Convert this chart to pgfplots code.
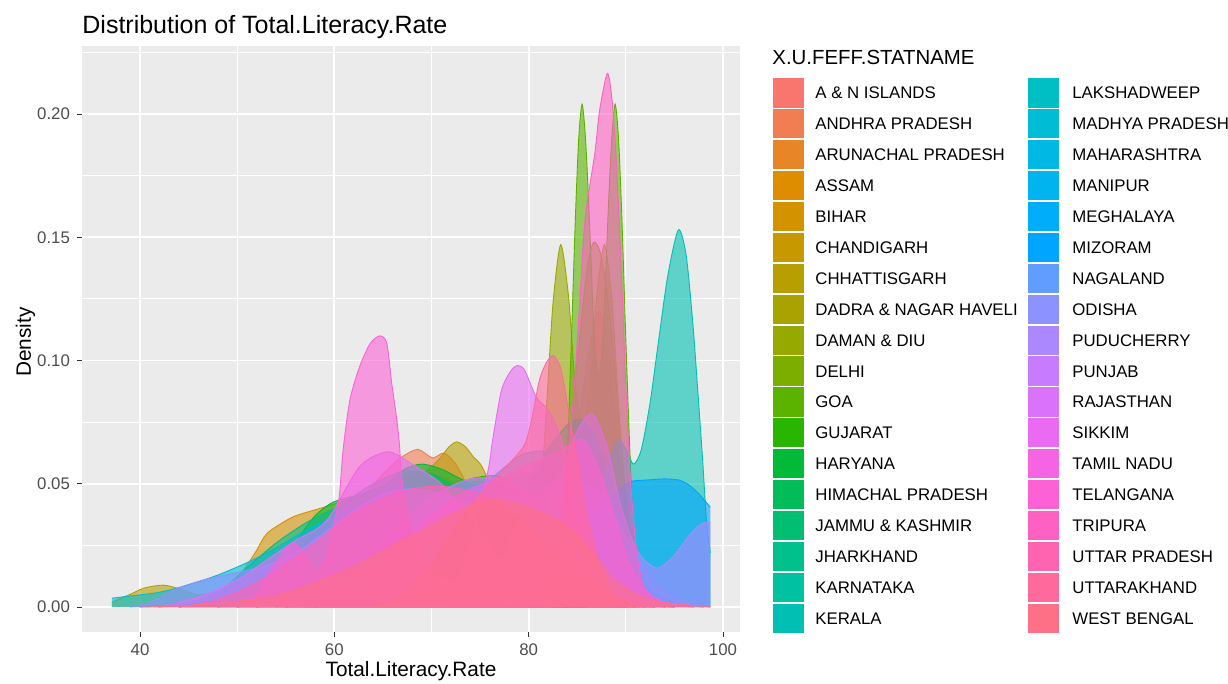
\documentclass[border=0pt]{standalone}
\usepackage{fontspec}
\setmainfont{Liberation Sans}
\usepackage{pgfplots}
\pgfplotsset{compat=1.18}
\definecolor{ggbg}{HTML}{EBEBEB}
\definecolor{ggtick}{HTML}{333333}
\definecolor{gglab}{HTML}{4D4D4D}
\definecolor{c1}{HTML}{F8766D}\definecolor{c2}{HTML}{F17D52}\definecolor{c3}{HTML}{E88526}
\definecolor{c4}{HTML}{DE8C00}\definecolor{c5}{HTML}{D39200}\definecolor{c6}{HTML}{C79800}
\definecolor{c7}{HTML}{B79F00}\definecolor{c8}{HTML}{A8A300}\definecolor{c9}{HTML}{96A900}
\definecolor{c10}{HTML}{7CAE00}\definecolor{c11}{HTML}{5BB300}\definecolor{c12}{HTML}{29B600}
\definecolor{c13}{HTML}{00BA38}\definecolor{c14}{HTML}{00BC59}\definecolor{c15}{HTML}{00BE72}
\definecolor{c16}{HTML}{00C08B}\definecolor{c17}{HTML}{00C1A0}\definecolor{c18}{HTML}{00C0B3}
\definecolor{c19}{HTML}{00BFC4}\definecolor{c20}{HTML}{00BCD5}\definecolor{c21}{HTML}{00B8E4}
\definecolor{c22}{HTML}{00B4F0}\definecolor{c23}{HTML}{00ADFA}\definecolor{c24}{HTML}{00A5FF}
\definecolor{c25}{HTML}{619CFF}\definecolor{c26}{HTML}{8C93FF}\definecolor{c27}{HTML}{AC88FF}
\definecolor{c28}{HTML}{C77CFF}\definecolor{c29}{HTML}{DB72FB}\definecolor{c30}{HTML}{EA6AF1}
\definecolor{c31}{HTML}{F564E3}\definecolor{c32}{HTML}{FC61D5}\definecolor{c33}{HTML}{FF61C3}
\definecolor{c34}{HTML}{FF64B0}\definecolor{c35}{HTML}{FF699C}\definecolor{c36}{HTML}{FD7085}
\newcommand{\dens}[2]{%
  \addplot[draw=none, fill=#1, fill opacity=0.6, smooth, tension=0.45, forget plot] coordinates {#2} \closedcycle;
  \addplot[draw=#1, line width=0.45pt, smooth, tension=0.45, forget plot] coordinates {#2};
}
\newcommand{\legfont}{\fontsize{8.4}{10}\selectfont}
\begin{document}
\begin{tikzpicture}
\path[use as bounding box] (0,0) rectangle (614pt,342pt);
\begin{axis}[
  at={(41pt,26pt)}, anchor=south west, scale only axis,
  width=329pt, height=293pt,
  xmin=34.03, xmax=101.75, ymin=-0.0101, ymax=0.2276,
  axis background/.style={fill=ggbg},
  axis line style={draw=none},
  grid=both,
  major grid style={draw=white, line width=0.9pt},
  minor grid style={draw=white, line width=0.45pt},
  xtick={40,60,80,100}, xticklabels={40,60,80,100},
  ytick={0,0.05,0.1,0.15,0.2}, yticklabels={0.00,0.05,0.10,0.15,0.20},
  minor xtick={50,70,90}, minor ytick={0.025,0.075,0.125,0.175,0.225},
  tick align=outside, tick pos=left,
  major tick length=2.5pt, minor tick length=0pt,
  tick style={draw=ggtick, line width=0.5pt},
  ticklabel style={font=\fontsize{8.4}{10}\selectfont, text=gglab},
]
% A & N ISLANDS
\dens{c1}{(80,0) (82,0.006) (83.5,0.022) (84.5,0.05) (85.5,0.085) (86.5,0.11) (87.3,0.12) (88.2,0.105) (89,0.072) (90,0.032) (91,0.01) (92.5,0)}
% ANDHRA PRADESH
\dens{c2}{(50,0) (54,0.004) (57,0.013) (60,0.029) (63,0.045) (65.5,0.056) (67,0.061) (68.6,0.064) (70.1,0.0605) (71.3,0.0625) (72.5,0.058) (74,0.047) (76,0.031) (78,0.017) (80,0.007) (83,0.001) (86,0)}
% ARUNACHAL PRADESH
\dens{c3}{(42,0) (46,0.003) (50,0.01) (54,0.018) (58,0.025) (62,0.035) (65,0.044) (68,0.049) (71,0.046) (74,0.038) (77,0.028) (80,0.015) (83,0.005) (86,0)}
% ASSAM
\dens{c4}{(52,0) (56,0.006) (59,0.019) (62,0.036) (65,0.048) (68,0.054) (71,0.053) (74,0.045) (77,0.031) (80,0.02) (83,0.012) (86,0.005) (89,0)}
% BIHAR
\dens{c5}{(44,0) (47,0.002) (49,0.007) (50.8,0.0158) (52,0.023) (53.1,0.030) (55.7,0.0365) (58.5,0.040) (61,0.043) (63,0.045) (65,0.044) (67,0.04) (69,0.031) (71,0.019) (73,0.009) (75,0.003) (78,0)}
% CHHATTISGARH
\dens{c7}{(37.1,0.002) (39,0.0052) (40.5,0.0078) (42.4,0.0089) (44,0.0075) (46,0.005) (48,0.0065) (50,0.011) (52,0.016) (54,0.0185) (56,0.022) (58,0.028) (61,0.038) (64,0.045) (67,0.05) (69,0.054) (70,0.057) (71,0.061) (71.8,0.065) (72.6,0.067) (73.5,0.065) (74.3,0.061) (75.2,0.057) (76.5,0.045) (78,0.03) (80,0.015) (82,0.005) (85,0)}
% DAMAN & DIU
\dens{c9}{(78,0) (80,0.007) (81,0.034) (81.8,0.079) (82.5,0.123) (83.3,0.147) (84.1,0.126) (84.8,0.09) (85.55,0.072) (86.3,0.09) (87,0.126) (87.8,0.147) (88.6,0.123) (89.3,0.079) (90.1,0.034) (91,0.008) (92,0.001) (93,0)}
% DELHI
\dens{c10}{(81,0) (82,0.008) (83,0.028) (84,0.06) (85,0.1) (86,0.137) (86.7,0.148) (87.5,0.142) (88.3,0.12) (89.2,0.082) (90,0.045) (91,0.015) (92,0.003) (93,0)}
% GOA
\dens{c11}{(82.5,0) (83.3,0.017) (83.8,0.046) (84.3,0.097) (84.8,0.157) (85.15,0.19) (85.5,0.204) (85.85,0.19) (86.2,0.162) (86.7,0.114) (87.2,0.092) (87.7,0.114) (88.2,0.162) (88.55,0.19) (88.9,0.204) (89.25,0.19) (89.6,0.157) (90.1,0.097) (90.6,0.046) (91.1,0.017) (91.6,0.005) (92.5,0)}
% GUJARAT
\dens{c12}{(52,0) (56,0.005) (59,0.015) (62,0.025) (65,0.033) (68,0.04) (71,0.047) (74,0.052) (77,0.053) (80,0.045) (83,0.03) (86,0.014) (89,0.004) (92,0)}
% HARYANA
\dens{c13}{(48,0) (51,0.003) (53,0.009) (55,0.018) (56.5,0.029) (58,0.037) (59.6,0.042) (61,0.044) (63,0.046) (65,0.049) (67.3,0.056) (69,0.058) (71,0.056) (73,0.052) (76,0.046) (79,0.038) (82,0.028) (85,0.015) (88,0.004) (91,0)}
% HIMACHAL PRADESH
\dens{c14}{(72,0) (74,0.008) (76,0.02) (78,0.035) (80,0.05) (82,0.064) (84,0.074) (85.5,0.076) (87,0.068) (88.5,0.05) (90,0.028) (92,0.01) (94,0)}
% JAMMU & KASHMIR
\dens{c15}{(48,0) (52,0.006) (55,0.016) (58,0.03) (61,0.042) (64,0.05) (67,0.055) (70,0.054) (73,0.047) (76,0.035) (79,0.02) (82,0.008) (85,0)}
% JHARKHAND
\dens{c16}{(44,0) (48,0.006) (51,0.016) (54,0.026) (57,0.034) (60,0.04) (63,0.046) (66,0.05) (69,0.047) (72,0.036) (75,0.02) (78,0.008) (81,0.002) (84,0)}
% KARNATAKA
\dens{c17}{(54,0) (58,0.006) (61,0.016) (64,0.028) (67,0.038) (70,0.046) (73,0.05) (76,0.051) (79,0.047) (82,0.038) (85,0.025) (88,0.012) (91,0.003) (94,0)}
% KERALA
\dens{c18}{(83,0) (85,0.006) (86.5,0.025) (88,0.055) (89.2,0.068) (90,0.064) (90.8,0.058) (91.6,0.064) (92.5,0.083) (93.3,0.106) (94.3,0.134) (95.4,0.153) (96.2,0.143) (96.9,0.115) (97.4,0.088) (97.9,0.06) (98.3,0.035) (98.7,0.022)}
% MADHYA PRADESH
\dens{c20}{(37.1,0.0036) (39,0.0045) (42,0.006) (45,0.009) (48,0.013) (51,0.018) (54,0.024) (57,0.031) (60,0.037) (63,0.042) (66,0.046) (69,0.047) (72,0.044) (75,0.036) (78,0.025) (81,0.013) (84,0.005) (87,0.001) (90,0)}
% MAHARASHTRA
\dens{c21}{(58,0) (62,0.004) (65,0.012) (68,0.024) (71,0.035) (74,0.045) (77,0.055) (79.4,0.062) (82,0.063) (84,0.057) (86,0.043) (88,0.026) (90,0.012) (92,0.004) (95,0)}
% MANIPUR
\dens{c22}{(55,0) (59,0.005) (62,0.013) (65,0.02) (68,0.028) (71,0.035) (74,0.043) (77,0.05) (80,0.054) (83,0.05) (86,0.038) (89,0.022) (92,0.008) (95,0.002) (98,0)}
% MEGHALAYA
\dens{c23}{(55,0) (59,0.006) (62,0.017) (65,0.028) (68,0.036) (71,0.042) (74,0.047) (77,0.05) (80,0.045) (83,0.033) (86,0.018) (89,0.006) (92,0)}
% MIZORAM
\dens{c24}{(57,0) (60,0.004) (63,0.0098) (65.9,0.0132) (69,0.0094) (72,0.0036) (75,0.0015) (78,0.0028) (81,0.0098) (84,0.0225) (86,0.032) (88,0.042) (89.5,0.048) (90.6,0.051) (92,0.0515) (94,0.052) (95.5,0.0515) (96.5,0.0495) (97.5,0.046) (98.7,0.0405)}
% NAGALAND
\dens{c25}{(50,0) (54,0.004) (58,0.01) (62,0.013) (66,0.02) (70,0.032) (73,0.04) (76,0.043) (79,0.046) (82,0.05) (85,0.052) (87.5,0.045) (89.5,0.032) (91.5,0.018) (93.5,0.008) (96,0.002) (98.7,0)}
% ODISHA
\dens{c26}{(39,0) (41,0.002) (42.5,0.005) (44.1,0.008) (47,0.0115) (50.6,0.0145) (53,0.017) (56,0.022) (59,0.03) (62,0.039) (65,0.046) (68,0.048) (71,0.046) (74,0.042) (77,0.036) (80,0.03) (83,0.022) (86,0.012) (89,0.004) (92,0.001) (95,0)}
% PUDUCHERRY
\dens{c27}{(72,0) (75,0.0047) (77,0.0172) (79,0.0353) (80.3,0.0431) (82,0.0477) (83.5,0.0567) (85,0.0714) (86.5,0.0785) (88,0.066) (89.5,0.041) (91,0.024) (92.5,0.017) (93.5,0.016) (95,0.021) (96.5,0.029) (97.5,0.033) (98.3,0.0345) (98.7,0.0345)}
% PUNJAB
\dens{c28}{(55,0) (59,0.004) (62,0.013) (65,0.026) (68,0.038) (71,0.047) (74,0.052) (77,0.052) (80,0.046) (83,0.032) (86,0.016) (89,0.006) (92,0)}
% RAJASTHAN
\dens{c29}{(42,0) (46,0.004) (50,0.011) (53,0.019) (56,0.027) (59.2,0.035) (62.6,0.057) (65.5,0.063) (68,0.058) (71,0.05) (74,0.036) (77,0.02) (80,0.008) (83,0.002) (86,0)}
% SIKKIM
\dens{c30}{(70,0) (72,0.006) (73.5,0.02) (75,0.042) (75.9,0.057) (76.3,0.068) (77.2,0.088) (78.2,0.096) (78.9,0.098) (79.6,0.096) (80.8,0.085) (82,0.08) (83.2,0.07) (84.5,0.05) (86,0.025) (87.5,0.008) (89,0.002) (91,0)}
% TAMIL NADU
\dens{c31}{(55,0) (59,0.003) (62,0.01) (65,0.02) (68,0.03) (71,0.04) (74,0.048) (77,0.052) (80,0.058) (83,0.063) (85.5,0.068) (87,0.058) (88.6,0.04) (90.2,0.019) (92,0.007) (94,0.002) (97,0)}
% TELANGANA
\dens{c32}{(50,0) (52,0.005) (53.8,0.017) (55.7,0.026) (57,0.021) (58.2,0.0145) (59.2,0.021) (59.9,0.033) (60.5,0.0446) (60.9,0.0637) (61.6,0.084) (62.6,0.0975) (63.7,0.107) (64.7,0.110) (65.4,0.107) (65.9,0.091) (66.4,0.077) (66.7,0.066) (66.9,0.054) (67.5,0.038) (68.5,0.024) (70,0.014) (72,0.01) (74.5,0.012) (77,0.012) (80,0.011) (83,0.013) (85,0.009) (87,0.003) (90,0)}
% TRIPURA
\dens{c33}{(79,0) (81,0.004) (82.5,0.015) (83.5,0.04) (84.5,0.08) (85.2,0.12) (85.8,0.157) (86.8,0.184) (87.3,0.2015) (88.1,0.2165) (88.6,0.205) (89.1,0.175) (89.6,0.13) (90.1,0.08) (90.6,0.045) (91.2,0.02) (92,0.007) (94,0)}
% UTTAR PRADESH
\dens{c34}{(44,0) (47,0.002) (50,0.006) (53,0.012) (56,0.02) (59,0.029) (62,0.038) (65,0.044) (68,0.048) (71,0.049) (74,0.047) (77,0.042) (80,0.033) (83,0.022) (86,0.012) (89,0.004) (92,0.001) (95,0)}
% UTTARAKHAND
\dens{c35}{(64,0) (66.5,0.004) (69,0.012) (71,0.024) (73,0.036) (75,0.046) (77,0.054) (78.4,0.06) (79.6,0.066) (80.3,0.076) (81.1,0.092) (81.8,0.099) (82.5,0.102) (83.2,0.098) (83.7,0.089) (84.3,0.075) (84.9,0.062) (86,0.038) (87.5,0.015) (89,0.004) (91,0)}
% WEST BENGAL
\dens{c36}{(40,0) (44,0.0005) (48,0.0015) (52.4,0.0036) (56,0.007) (59.2,0.0118) (62,0.0165) (64.7,0.022) (67,0.027) (70,0.033) (72.5,0.0385) (75,0.0426) (76.7,0.0433) (78.5,0.0425) (81,0.039) (83.5,0.034) (85,0.029) (86.6,0.022) (88.6,0.012) (90.5,0.0065) (92.1,0.0036) (94,0.002) (96,0.001) (98.7,0.0003)}
\end{axis}
% titles
\node[anchor=base west, inner sep=0pt, font=\fontsize{12.5}{15}\selectfont] at (41pt,325pt) {Distribution of Total.Literacy.Rate};
\node[anchor=base, inner sep=0pt, font=\fontsize{10.4}{12}\selectfont] at (205.5pt,3.5pt) {Total.Literacy.Rate};
\node[anchor=base, inner sep=0pt, rotate=90, font=\fontsize{10.4}{12}\selectfont] at (15.5pt,171pt) {Density};
% legend
\node[anchor=base west, inner sep=0pt, font=\fontsize{10.2}{12}\selectfont] at (386pt,309.5pt) {X.U.FEFF.STATNAME};
\foreach \c/\t [count=\i from 0] in {c1/A \& N ISLANDS, c2/ANDHRA PRADESH, c3/ARUNACHAL PRADESH, c4/ASSAM, c5/BIHAR, c6/CHANDIGARH, c7/CHHATTISGARH, c8/DADRA \& NAGAR HAVELI, c9/DAMAN \& DIU, c10/DELHI, c11/GOA, c12/GUJARAT, c13/HARYANA, c14/HIMACHAL PRADESH, c15/JAMMU \& KASHMIR, c16/JHARKHAND, c17/KARNATAKA, c18/KERALA}{
  \fill[\c] (386.5pt,{295.5pt-15.45pt*\i-7.3pt}) rectangle ++(15.5pt,14.6pt);
  \node[anchor=base west, inner sep=0pt, font=\legfont] at (407.5pt,{295.5pt-15.45pt*\i-3pt}) {\t};
}
\foreach \c/\t [count=\i from 0] in {c19/LAKSHADWEEP, c20/MADHYA PRADESH, c21/MAHARASHTRA, c22/MANIPUR, c23/MEGHALAYA, c24/MIZORAM, c25/NAGALAND, c26/ODISHA, c27/PUDUCHERRY, c28/PUNJAB, c29/RAJASTHAN, c30/SIKKIM, c31/TAMIL NADU, c32/TELANGANA, c33/TRIPURA, c34/UTTAR PRADESH, c35/UTTARAKHAND, c36/WEST BENGAL}{
  \fill[\c] (514pt,{295.5pt-15.45pt*\i-7.3pt}) rectangle ++(15.5pt,14.6pt);
  \node[anchor=base west, inner sep=0pt, font=\legfont] at (536pt,{295.5pt-15.45pt*\i-3pt}) {\t};
}
\end{tikzpicture}
\end{document}
